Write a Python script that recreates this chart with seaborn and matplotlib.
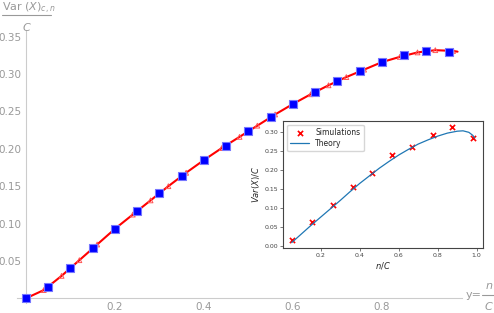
import matplotlib
matplotlib.use('Agg')
import matplotlib.pyplot as plt
import seaborn as sns
from matplotlib.ticker import MultipleLocator, FixedLocator
from matplotlib.lines import Line2D

# main plot: blue squares (exact values) and red curve with triangle markers
sq_x = [0.0, 0.05, 0.10, 0.15, 0.20, 0.25, 0.30, 0.35, 0.40, 0.45,
        0.50, 0.55, 0.60, 0.65, 0.70, 0.75, 0.80, 0.85, 0.90, 0.95]
sq_y = [0.0, 0.015, 0.041, 0.067, 0.093, 0.117, 0.141, 0.163, 0.185, 0.204,
        0.224, 0.243, 0.260, 0.276, 0.291, 0.304, 0.316, 0.325, 0.331, 0.330]

curve_x = [0.0, 0.04, 0.08, 0.12, 0.16, 0.20, 0.24, 0.28, 0.32, 0.36, 0.40, 0.44, 0.48,
           0.52, 0.56, 0.60, 0.64, 0.68, 0.72, 0.76, 0.80, 0.84, 0.88, 0.92, 0.96, 0.97]
curve_y = [0.0, 0.011, 0.030, 0.051, 0.072, 0.093, 0.112, 0.131, 0.150, 0.168, 0.185, 0.201, 0.216,
           0.231, 0.246, 0.260, 0.273, 0.285, 0.296, 0.306, 0.316, 0.323, 0.329, 0.332, 0.331, 0.330]

# inset: simulations vs theory
sim_x = [0.05, 0.155, 0.26, 0.365, 0.465, 0.565, 0.67, 0.775, 0.875, 0.98]
sim_y = [0.015, 0.063, 0.107, 0.155, 0.192, 0.240, 0.260, 0.292, 0.313, 0.285]
theory_x = [0.05, 0.10, 0.15, 0.20, 0.25, 0.30, 0.35, 0.40, 0.45, 0.50, 0.55, 0.60,
            0.65, 0.70, 0.75, 0.80, 0.85, 0.90, 0.93, 0.96, 0.98, 0.99]
theory_y = [0.008, 0.031, 0.054, 0.076, 0.098, 0.120, 0.143, 0.165, 0.185, 0.205, 0.223, 0.240,
            0.255, 0.269, 0.280, 0.290, 0.298, 0.303, 0.304, 0.300, 0.292, 0.285]

sns.set_style('white')
plt.rcParams['font.family'] = ['DejaVu Sans']

W, H = 494, 313
fig = plt.figure(figsize=(W / 100, H / 100), dpi=100)

def px(x, y):
    return x / W, 1 - y / H

gray = '#999999'
ax = fig.add_axes([17 / W, 10 / H, 445 / W, 273 / H])
ax.set_xlim(-0.0202, 0.98)
ax.set_ylim(-0.0063, 0.359)
for s in ['top', 'right']:
    ax.spines[s].set_visible(False)
for s in ['left', 'bottom']:
    ax.spines[s].set_position(('data', 0))
    ax.spines[s].set_color('#cccccc')
    ax.spines[s].set_linewidth(0.8)

ax.xaxis.set_major_locator(FixedLocator([0.2, 0.4, 0.6, 0.8]))
ax.xaxis.set_minor_locator(MultipleLocator(0.05))
ax.yaxis.set_major_locator(FixedLocator([0.05, 0.10, 0.15, 0.20, 0.25, 0.30, 0.35]))
ax.yaxis.set_minor_locator(MultipleLocator(0.01))
ax.xaxis.set_major_formatter(plt.FuncFormatter(lambda v, _: '{:.1f}'.format(v)))
ax.yaxis.set_major_formatter(plt.FuncFormatter(lambda v, _: '{:.2f}'.format(v)))
ax.tick_params(which='major', direction='in', length=4, width=0.6, color='#bbbbbb',
               labelsize=7.5, labelcolor=gray, pad=3)
ax.tick_params(which='minor', direction='in', length=2, width=0.5, color='#cccccc')

sns.lineplot(x=curve_x, y=curve_y, ax=ax, color='red', linewidth=1.5, zorder=3)
ax.scatter(curve_x[1:-1], curve_y[1:-1], marker='^', s=12, facecolors='none',
           edgecolors='#ff5555', linewidths=0.7, zorder=4)
sns.scatterplot(x=sq_x, y=sq_y, ax=ax, marker='s', s=34, color='blue',
                edgecolor='#7777ff', linewidth=0.8, zorder=5, clip_on=False)

# y label as fraction
fig.text(*px(2, 8), r'Var $(X)_{c,n}$', fontsize=8, color=gray, va='center', ha='left')
fig.add_artist(Line2D([2 / W, 51 / W], [1 - 15 / H, 1 - 15 / H], color=gray, linewidth=0.8))
fig.text(*px(27, 27), r'$C$', fontsize=8, color=gray, va='center', ha='center')

# x label
fig.text(*px(474, 295), 'y=', fontsize=8, color=gray, va='center', ha='center')
fig.add_artist(Line2D([482 / W, 494 / W], [1 - 295 / H, 1 - 295 / H], color=gray, linewidth=0.8))
fig.text(*px(489, 286), r'$n$', fontsize=8, color=gray, va='center', ha='center')
fig.text(*px(489, 306), r'$C$', fontsize=8, color=gray, va='center', ha='center')

# inset
ins = fig.add_axes([283.3 / W, (H - 248.3) / H, 199.4 / W, 127.3 / H])
ins.set_facecolor('white')
sns.lineplot(x=theory_x, y=theory_y, ax=ins, color='#1f77b4', linewidth=0.9, label='Theory')
sns.scatterplot(x=sim_x, y=sim_y, ax=ins, marker='x', s=14, color='red', linewidth=1.2,
                label='Simulations')
for s in ins.spines.values():
    s.set_color('#444444')
    s.set_linewidth(0.8)
ins.xaxis.set_major_locator(FixedLocator([0.2, 0.4, 0.6, 0.8, 1.0]))
ins.yaxis.set_major_locator(MultipleLocator(0.05))
ins.xaxis.set_major_formatter(plt.FuncFormatter(lambda v, _: '{:.1f}'.format(v)))
ins.yaxis.set_major_formatter(plt.FuncFormatter(lambda v, _: '{:.2f}'.format(v)))
ins.tick_params(direction='out', length=2, width=0.5, labelsize=4.5, pad=1.5,
                colors='#444444', left=True, bottom=True)
ins.set_xlim(0.007, 1.031)
ins.set_ylim(-0.007, 0.33)
ins.set_xlabel('$n/C$', fontsize=6, labelpad=1)
ins.set_ylabel('$Var(X)/C$', fontsize=6, labelpad=2)
handles, labels = ins.get_legend_handles_labels()
ins.legend(handles[::-1], labels[::-1], loc='upper left', fontsize=5.5, frameon=True,
           borderpad=0.4, handlelength=2.5, labelspacing=0.3)

fig.savefig('out.png', dpi=100)
